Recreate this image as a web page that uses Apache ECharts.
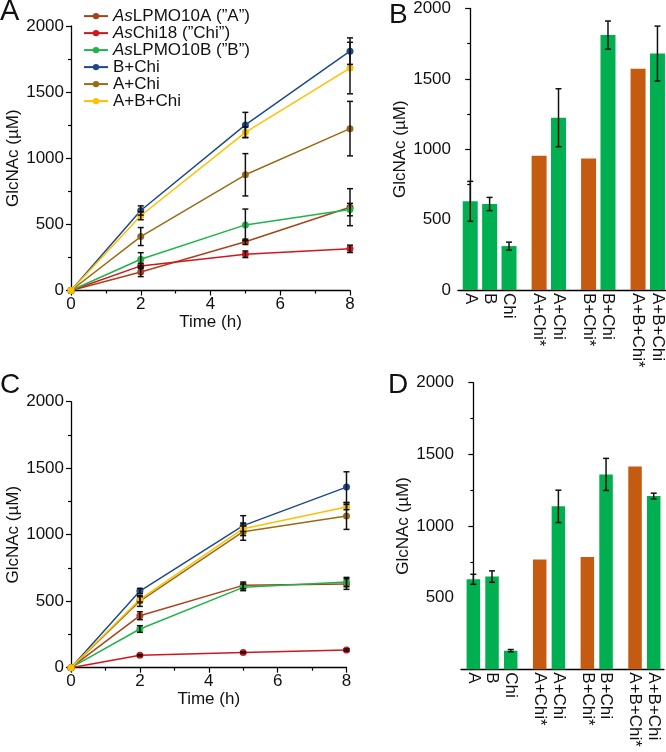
<!DOCTYPE html>
<html><head><meta charset="utf-8">
<script src="https://cdn.jsdelivr.net/npm/echarts@6/dist/echarts.min.js"></script>
<style>html,body{margin:0;padding:0;background:#fff}#c{width:666px;height:752px}</style>
</head><body><div id="c"></div>
<script>
// ---------- data ----------
const timePoints = [0, 2, 5, 8];
const seriesNames = ['AsLPMO10A (”A”)', 'AsChi18 (”Chi”)', 'AsLPMO10B (”B”)', 'B+Chi', 'A+Chi', 'A+B+Chi'];
const lineColors = ['#A8431B', '#D2161E', '#1FB44B', '#1F4A8A', '#9A6B14', '#FFC000'];

// Panel A (time course, condition 1)
const panelA_A      = [0, 140, 368, 630];   const panelA_A_err      = [0, 35, 20, 140];
const panelA_Chi    = [0, 186, 274, 315];   const panelA_Chi_err    = [0, 20, 25, 28];
const panelA_B      = [0, 236, 496, 612];   const panelA_B_err      = [0, 50, 120, 47];
const panelA_BChi   = [0, 605, 1252, 1810]; const panelA_BChi_err   = [0, 35, 95, 100];
const panelA_AChi   = [0, 408, 875, 1224];  const panelA_AChi_err   = [0, 68, 160, 206];
const panelA_ABChi  = [0, 565, 1196, 1682]; const panelA_ABChi_err  = [0, 30, 40, 195];

// Panel C (time course, condition 2)
const panelC_A      = [0, 391, 619, 629];   const panelC_A_err      = [0, 30, 25, 40];
const panelC_Chi    = [0, 93, 115, 133];    const panelC_Chi_err    = [0, 5, 5, 8];
const panelC_B      = [0, 291, 604, 644];   const panelC_B_err      = [0, 25, 25, 35];
const panelC_BChi   = [0, 576, 1068, 1358]; const panelC_BChi_err   = [0, 20, 75, 115];
const panelC_AChi   = [0, 501, 1023, 1140]; const panelC_AChi_err   = [0, 40, 65, 100];
const panelC_ABChi  = [0, 514, 1045, 1208]; const panelC_ABChi_err  = [0, 20, 20, 20];

// Bar panels (B and D): 8 h values; "*" = theoretical sum
const barCategories = ['A', 'B', 'Chi', 'A+Chi*', 'A+Chi', 'B+Chi*', 'B+Chi', 'A+B+Chi*', 'A+B+Chi'];
const barGroupSizes = [3, 2, 2, 2];
const panelB_values = [630, 611, 312, 954, 1224, 935, 1811, 1572, 1680];
const panelB_err    = [142, 47, 28, 0, 206, 0, 100, 0, 195];
const panelD_values = [628, 647, 130, 767, 1137, 784, 1360, 1416, 1209];
const panelD_err    = [35, 40, 8, 0, 113, 0, 112, 0, 20];

const yTicks = [0, 500, 1000, 1500, 2000];
const xTicks = [0, 2, 4, 6, 8];

// ---------- build ----------
const FONT = '"Liberation Sans", Arial, sans-serif';
const GREEN = '#00B050', ORANGE = '#C55A11';
const GROUP_GAP = 1.55;
const barPos = [];
(function(){ let p = 0; barGroupSizes.forEach((n) => { for (let i = 0; i < n; i++) { barPos.push(p); p += 1; } p += GROUP_GAP - 1; }); })();

const axisLine = { show: true, lineStyle: { color: '#000', width: 1.3 } };
function yAxis(gi, hideZero, nameGap) {
  return {
    type: 'value', gridIndex: gi, min: yTicks[0], max: yTicks[yTicks.length - 1], interval: yTicks[1] - yTicks[0],
    name: 'GlcNAc (µM)', nameLocation: 'middle', nameGap: nameGap,
    nameTextStyle: { fontSize: 17, color: '#111', fontFamily: FONT },
    axisLine: axisLine, axisTick: { show: true, length: 5, lineStyle: { color: '#000', width: 1.2 } },
    minorTick: { show: true, splitNumber: 2, length: 3, lineStyle: { color: '#000', width: 1.2 } },
    splitLine: { show: false }, minorSplitLine: { show: false },
    axisLabel: { fontSize: 17, color: '#111', fontFamily: FONT, margin: 7,
      formatter: v => (hideZero && v === 0) ? '' : String(v) }
  };
}
function timeAxis(gi) {
  return {
    type: 'value', gridIndex: gi, min: xTicks[0], max: xTicks[xTicks.length - 1], interval: xTicks[1] - xTicks[0],
    name: 'Time (h)', nameLocation: 'middle', nameGap: 20,
    nameTextStyle: { fontSize: 17, color: '#111', fontFamily: FONT },
    axisLine: axisLine, axisTick: { show: true, length: 5, lineStyle: { color: '#000', width: 1.2 } },
    minorTick: { show: true, splitNumber: 2, length: 3, lineStyle: { color: '#000', width: 1.2 } },
    splitLine: { show: false }, minorSplitLine: { show: false },
    axisLabel: { fontSize: 17, color: '#111', fontFamily: FONT, margin: 5 }
  };
}
function barAxis(gi, min, max) {
  return {
    type: 'value', gridIndex: gi, min: min, max: max,
    axisLine: axisLine, axisTick: { show: false }, splitLine: { show: false },
    axisLabel: { customValues: barPos, rotate: -90, margin: 3, fontSize: 17, color: '#111', fontFamily: FONT,
      formatter: v => { const j = barPos.findIndex(p => Math.abs(p - v) < 1e-6); return j >= 0 ? barCategories[j] : ''; } }
  };
}

function errorSeries(xi, xs, ys, es, cap) {
  const data = [];
  for (let i = 0; i < xs.length; i++) if (es[i] > 0) data.push([xs[i], ys[i], es[i]]);
  return {
    type: 'custom', xAxisIndex: xi, yAxisIndex: xi, z: 5, silent: true, data: data,
    encode: { x: 0, y: 1 },
    renderItem: function (params, api) {
      const x = api.value(0), y = api.value(1), e = api.value(2);
      const t = api.coord([x, y + e]), b = api.coord([x, y - e]);
      const st = { stroke: '#111', lineWidth: 1.5 };
      return { type: 'group', children: [
        { type: 'line', shape: { x1: t[0], y1: t[1], x2: b[0], y2: b[1] }, style: st },
        { type: 'line', shape: { x1: t[0] - cap, y1: t[1], x2: t[0] + cap, y2: t[1] }, style: st },
        { type: 'line', shape: { x1: b[0] - cap, y1: b[1], x2: b[0] + cap, y2: b[1] }, style: st }
      ] };
    }
  };
}

const panelA = [[panelA_A, panelA_A_err], [panelA_Chi, panelA_Chi_err], [panelA_B, panelA_B_err],
                [panelA_BChi, panelA_BChi_err], [panelA_AChi, panelA_AChi_err], [panelA_ABChi, panelA_ABChi_err]];
const panelC = [[panelC_A, panelC_A_err], [panelC_Chi, panelC_Chi_err], [panelC_B, panelC_B_err],
                [panelC_BChi, panelC_BChi_err], [panelC_AChi, panelC_AChi_err], [panelC_ABChi, panelC_ABChi_err]];

const series = [];
[[panelA, 0], [panelC, 2]].forEach(([panel, ai]) => {
  panel.forEach(([vals], k) => {
    series.push({
      type: 'line', name: seriesNames[k], xAxisIndex: ai, yAxisIndex: ai,
      data: timePoints.map((t, i) => [t, vals[i]]),
      symbol: 'circle', symbolSize: 7, showAllSymbol: true,
      lineStyle: { color: lineColors[k], width: 1.5 }, itemStyle: { color: lineColors[k] }, z: 2 + k * 0.01
    });
  });
  panel.forEach(([vals, errs]) => series.push(errorSeries(ai, timePoints, vals, errs, 3)));
});
[[panelB_values, panelB_err, 1, 15], [panelD_values, panelD_err, 3, 13.5]].forEach(([vals, errs, ai, bw]) => {
  series.push({
    type: 'bar', xAxisIndex: ai, yAxisIndex: ai, barWidth: bw, silent: true,
    data: vals.map((v, i) => ({ value: [barPos[i], v],
      itemStyle: { color: barCategories[i].endsWith('*') ? ORANGE : GREEN } }))
  });
  series.push(errorSeries(ai, barPos, vals, errs, 3));
});

const option = {
  animation: false,
  backgroundColor: '#fff',
  textStyle: { fontFamily: FONT },
  grid: [
    { left: 71, top: 26, width: 279, height: 264.5 },
    { left: 458, top: 8.3, width: 208, height: 281.7 },
    { left: 71, top: 401.7, width: 275.5, height: 266 },
    { left: 461, top: 382.7, width: 203, height: 286.6 }
  ],
  xAxis: [timeAxis(0), barAxis(1, -0.63, 10.09), timeAxis(2), barAxis(3, -0.66, 10.2)],
  yAxis: [yAxis(0, false, 44), yAxis(1, false, 43), yAxis(2, false, 44), yAxis(3, true, 46)],
  legend: {
    orient: 'vertical', left: 83, top: 7.6, padding: 0, itemGap: 0, itemWidth: 24, itemHeight: 8,
    data: seriesNames, selectedMode: false,
    formatter: n => n.startsWith('As') ? '{i|As}' + n.slice(2) : n,
    textStyle: { fontSize: 17, lineHeight: 14.7, color: '#111', fontFamily: FONT,
      rich: { i: { fontStyle: 'italic', fontSize: 17, lineHeight: 14.7, fontFamily: FONT, color: '#111' } } }
  },
  graphic: [
    { type: 'text', left: 0, top: -3, style: { text: 'A', font: '29px ' + FONT, fill: '#111' } },
    { type: 'text', left: 389, top: 1, style: { text: 'B', font: '28px ' + FONT, fill: '#111' } },
    { type: 'text', left: 0, top: 371, style: { text: 'C', font: '28px ' + FONT, fill: '#111' } },
    { type: 'text', left: 388, top: 371, style: { text: 'D', font: '28px ' + FONT, fill: '#111' } }
  ],
  series: series
};
const chart = echarts.init(document.getElementById('c'), null, { renderer: 'canvas' });
chart.setOption(option);
</script>
</body></html>
